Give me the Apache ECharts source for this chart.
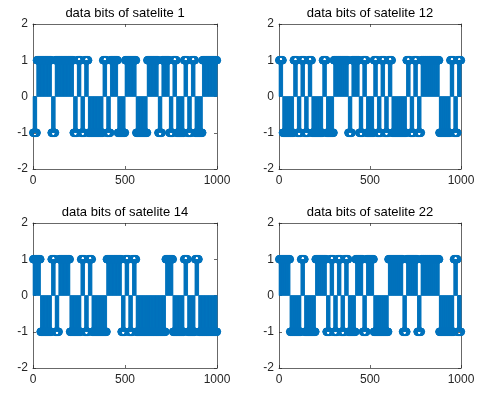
<!DOCTYPE html>
<html><head><meta charset="utf-8">
<script src="https://cdn.jsdelivr.net/npm/echarts@6/dist/echarts.min.js"></script>
<style>html,body{margin:0;padding:0;background:#fff}#c{width:484px;height:395px}</style>
</head><body><div id="c"></div>
<script>
// ---- data ----
const titles = ['data bits of satelite 1','data bits of satelite 12','data bits of satelite 14','data bits of satelite 22'];
const xTicks = [0, 500, 1000];
const yTicks = [-2, -1, 0, 1, 2];
const samplesPerBit = 20;
const sampleCount = 1000;
const bitsSat1  = [-1,1,1,1,1,-1,1,1,1,1,1,-1,1,-1,1,-1,-1,-1,-1,1,-1,1,1,-1,-1,1,1,1,-1,-1,-1,1,1,1,-1,1,1,-1,1,-1,-1,1,-1,1,-1,-1,1,1,1,1];
const bitsSat12 = [1,-1,-1,-1,1,-1,1,-1,1,-1,-1,-1,1,-1,-1,1,1,1,1,-1,1,1,-1,1,-1,-1,1,-1,1,-1,1,-1,-1,-1,-1,1,-1,1,-1,1,1,1,1,1,-1,-1,-1,1,-1,1];
const bitsSat14 = [1,1,-1,-1,-1,1,-1,1,1,1,-1,-1,-1,1,-1,1,-1,-1,-1,-1,1,1,1,1,-1,1,-1,1,-1,-1,-1,-1,-1,-1,-1,-1,1,1,-1,-1,-1,1,-1,-1,1,-1,-1,-1,-1,-1];
const bitsSat22 = [1,1,1,-1,-1,-1,1,-1,-1,-1,1,1,1,-1,1,-1,1,-1,1,-1,-1,1,1,-1,1,1,-1,-1,-1,-1,1,1,1,1,-1,1,1,1,-1,1,1,1,1,1,-1,-1,-1,-1,1,-1];
const allBits = [bitsSat1, bitsSat12, bitsSat14, bitsSat22];

// ---- layout ----
const grids = [
  {left:33, top:24, width:184, height:145},
  {left:279, top:24, width:182, height:145},
  {left:33, top:223, width:184, height:145},
  {left:279, top:223, width:182, height:145}
];
const blue = '#0072BD';
const axisCol = '#262626';
const font = 'Liberation Sans, Arial, sans-serif';

function samples(bits){
  const out = [];
  for (let i = 1; i <= sampleCount; i++){
    out.push([i, bits[Math.floor((i-1)/samplesPerBit)]]);
  }
  return out;
}

const xAxes = [], yAxes = [], series = [], title = [];
grids.forEach((g, i) => {
  const lineStyle = {color: axisCol, width: 0.7};
  ['bottom','top'].forEach((pos, k) => {
    xAxes.push({type:'value', gridIndex:i, position:pos, min:xTicks[0], max:xTicks[xTicks.length-1], interval:500,
      axisLine:{show:true, onZero:false, lineStyle},
      axisTick:{show:true, inside:true, length:3, lineStyle},
      splitLine:{show:false},
      axisLabel:{show:k===0, color:axisCol, fontSize:12, fontFamily:font, margin:6, formatter:v => String(v)}});
  });
  ['left','right'].forEach((pos, k) => {
    yAxes.push({type:'value', gridIndex:i, position:pos, min:yTicks[0], max:yTicks[yTicks.length-1], interval:1,
      axisLine:{show:true, onZero:false, lineStyle},
      axisTick:{show:true, inside:true, length:3, lineStyle},
      splitLine:{show:false},
      axisLabel:{show:k===0, color:axisCol, fontSize:12, fontFamily:font, margin:5, formatter:v => String(v)}});
  });
  const data = samples(allBits[i]);
  series.push({type:'custom', xAxisIndex:2*i, yAxisIndex:2*i, coordinateSystem:'cartesian2d', silent:true,
    encode:{x:0, y:1}, data,
    renderItem:function(params, api){
      const x = api.value(0), y = api.value(1);
      const p0 = api.coord([x, 0]), p1 = api.coord([x, y]);
      return {type:'line', shape:{x1:p0[0], y1:p0[1], x2:p1[0], y2:p1[1]}, style:{stroke:blue, lineWidth:0.7}};
    }});
  series.push({type:'scatter', xAxisIndex:2*i, yAxisIndex:2*i, silent:true, data, symbol:'circle', symbolSize:7.5,
    itemStyle:{color:'rgba(0,0,0,0)', borderColor:blue, borderWidth:1}, z:3});
  title.push({text:titles[i], left:g.left + g.width/2, top:g.top - 17, textAlign:'center', padding:0,
    textStyle:{fontSize:13, fontWeight:'normal', color:'#000', fontFamily:font}});
});

const chart = echarts.init(document.getElementById('c'), null, {renderer:'canvas'});
chart.setOption({animation:false, backgroundColor:'#fff', title, grid:grids, xAxis:xAxes, yAxis:yAxes, series});
</script>
</body></html>
